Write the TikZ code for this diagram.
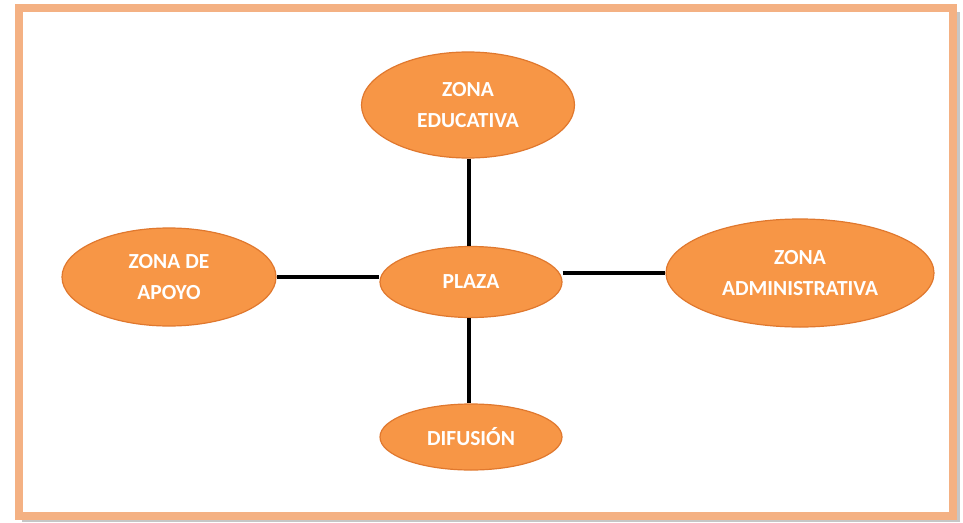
\documentclass[tikz,border=0pt]{standalone}
\usepackage{fontspec}
\setmainfont{Carlito}
\usetikzlibrary{shapes.geometric}
\definecolor{orfill}{HTML}{F79646}
\definecolor{oredge}{HTML}{E0782E}
\definecolor{framec}{HTML}{F4B183}
\begin{document}
\begin{tikzpicture}[x=1pt,y=-1pt,
  zone/.style={ellipse,fill=orfill,draw=oredge,line width=1.2pt,inner sep=0pt,
    font=\fontsize{21.5}{31}\selectfont\bfseries,text=white,align=center},
  link/.style={line width=3.6pt,black}]
\useasboundingbox (0,0) rectangle (963,522);
\fill[gray!45] (22,12) rectangle (960,522);
\fill[white] (15,4) rectangle (957,520);
\draw[framec,line width=8pt] (19,8) rectangle (953,516);
\node[zone,minimum width=213pt,minimum height=106pt] (edu) at (468,105) {ZONA\\EDUCATIVA};
\node[zone,minimum width=214pt,minimum height=98pt] (apoyo) at (169,277) {ZONA DE\\APOYO};
\node[zone,minimum width=182pt,minimum height=71pt] (plaza) at (471,282) {PLAZA};
\node[zone,minimum width=268pt,minimum height=108pt] (adm) at (800,273) {ZONA\\ADMINISTRATIVA};
\node[zone,minimum width=182pt,minimum height=66pt] (dif) at (471,437) {DIFUSIÓN};
\coordinate (c1) at (469,158);
\draw[link] (edu.south -| c1) -- (plaza.north -| c1);
\draw[link] (plaza.south -| c1) -- (dif.north -| c1);
\draw[link] (apoyo.east) -- (apoyo.east -| plaza.west);
\draw[link] (adm.west -| plaza.east) -- (adm.west);
\end{tikzpicture}
\end{document}
